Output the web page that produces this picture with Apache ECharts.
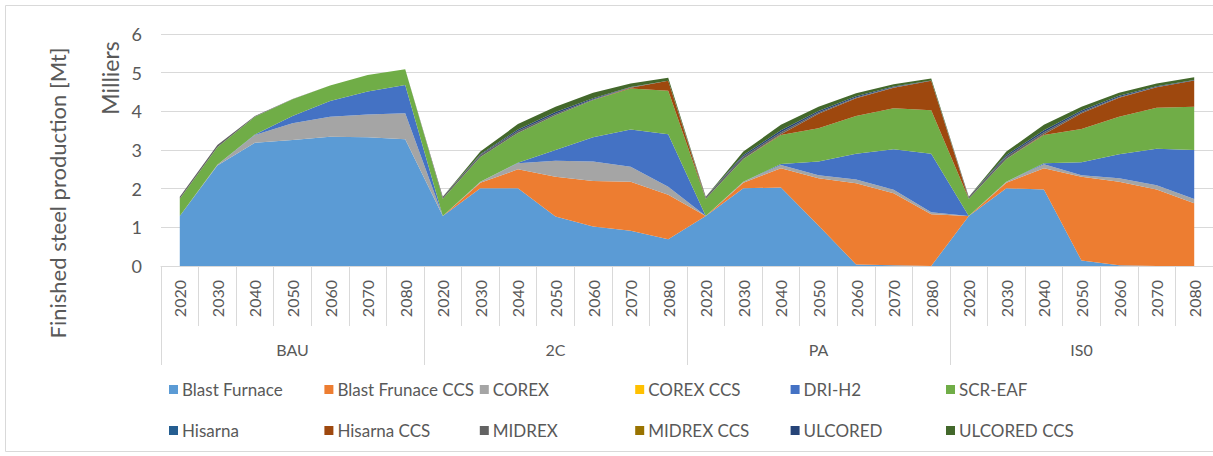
<!DOCTYPE html>
<html>
<head>
<meta charset="utf-8">
<script src="https://cdn.jsdelivr.net/npm/echarts@6/dist/echarts.min.js"></script>
<style>
html,body{margin:0;padding:0;background:#fff;}
#chart{width:1213px;height:456px;}
</style>
</head>
<body>
<div id="chart"></div>
<script>
var years = ['2020','2030','2040','2050','2060','2070','2080'];
var scenarios = ['BAU','2C','PA','IS0'];
var yTicks = [0, 6, 1];

var seriesNames = ['Blast Furnace','Blast Frunace CCS','COREX','COREX CCS','DRI-H2','SCR-EAF',
                   'Hisarna','Hisarna CCS','MIDREX','MIDREX CCS','ULCORED','ULCORED CCS'];

// values per series, 28 points: BAU, 2C, PA, IS0 x 2020..2080 (thousand Mt)
var blastFurnace = [1.29,2.60,3.19,3.26,3.34,3.33,3.28, 1.29,2.01,2.01,1.28,1.02,0.91,0.69, 1.29,2.01,2.03,1.05,0.04,0.02,0, 1.29,2.01,1.98,0.14,0.02,0,0];
var blastFurnaceCCS = [0,0,0,0,0,0,0, 0,0.14,0.49,1.03,1.18,1.27,1.15, 0,0.14,0.50,1.22,2.10,1.86,1.34, 0,0.14,0.55,2.17,2.16,1.98,1.62];
var corex = [0,0.02,0.20,0.43,0.52,0.59,0.67, 0,0.03,0.16,0.41,0.50,0.39,0.21, 0,0.03,0.08,0.08,0.10,0.09,0.05, 0,0.03,0.10,0.04,0.09,0.11,0.11];
var corexCCS = [0,0,0,0,0,0,0, 0,0,0,0,0,0,0, 0,0,0,0,0,0,0, 0,0,0,0,0,0,0];
var driH2 = [0,0,0.01,0.19,0.41,0.59,0.73, 0,0,0.01,0.28,0.63,0.96,1.36, 0,0,0.03,0.35,0.66,1.05,1.51, 0,0,0.03,0.33,0.62,0.94,1.27];
var scrEAF = [0.45,0.45,0.46,0.43,0.40,0.43,0.41, 0.45,0.64,0.77,0.90,0.96,1.06,1.12, 0.45,0.59,0.75,0.86,0.98,1.06,1.13, 0.45,0.59,0.73,0.86,0.97,1.06,1.12];
var hisarna = [0,0,0,0,0,0,0, 0,0,0,0,0,0,0, 0,0,0,0,0,0,0, 0,0,0,0,0,0,0];
var hisarnaCCS = [0,0,0,0,0,0,0, 0,0,0,0,0,0.02,0.26, 0,0,0.02,0.38,0.46,0.53,0.76, 0,0,0.02,0.41,0.49,0.53,0.68];
var midrex = [0.05,0.06,0.02,0.01,0,0,0, 0.05,0.05,0.05,0.04,0.02,0.01,0, 0.05,0.06,0.05,0.03,0.02,0.01,0, 0.05,0.06,0.05,0.03,0.02,0.01,0];
var midrexCCS = [0,0,0,0,0,0,0, 0,0,0,0,0,0,0, 0,0,0,0,0,0,0, 0,0,0,0,0,0,0];
var ulcored = [0,0,0,0,0,0,0, 0,0.02,0.04,0.04,0.03,0.01,0, 0,0.04,0.05,0.04,0.03,0.02,0.01, 0,0.04,0.05,0.04,0.03,0.02,0.01];
var ulcoredCCS = [0,0,0,0,0,0,0, 0,0.07,0.14,0.14,0.14,0.09,0.08, 0,0.09,0.14,0.11,0.08,0.06,0.05, 0,0.09,0.14,0.10,0.08,0.07,0.07];

var seriesValues = [blastFurnace, blastFurnaceCCS, corex, corexCCS, driH2, scrEAF,
                    hisarna, hisarnaCCS, midrex, midrexCCS, ulcored, ulcoredCCS];
var colors = ['#5B9BD5','#ED7D31','#A5A5A5','#FFC000','#4472C4','#70AD47',
              '#255E91','#9E480E','#636363','#997300','#264478','#43682B'];

var categories = [];
scenarios.forEach(function (s) { years.forEach(function (y) { categories.push(s + '|' + y); }); });

var FONT = 'Lato';
var GRAY = '#595959';
var LINE = '#D9D9D9';

var series = seriesNames.map(function (n, i) {
  return {
    name: n, type: 'line', stack: 'total', data: seriesValues[i],
    symbol: 'none', lineStyle: { width: 0 }, areaStyle: { opacity: 1, color: colors[i] },
    itemStyle: { color: colors[i] }, emphasis: { disabled: true }, animation: false
  };
});

var legends = seriesNames.map(function (n, i) {
  var col = i % 6, row = Math.floor(i / 6);
  return {
    data: [n], left: 169 + col * 155.4, top: row === 0 ? 381 : 422,
    itemWidth: 9, itemHeight: 9, icon: 'rect', padding: 0, itemGap: 0,
    textStyle: { fontSize: 17, color: GRAY, fontFamily: FONT, padding: [0, 0, 0, -1] }
  };
});

var chart = echarts.init(document.getElementById('chart'), null, { renderer: 'svg' });
chart.setOption({
  animation: false,
  color: colors,
  textStyle: { fontFamily: FONT },
  grid: { left: 161, right: -7, top: 34, height: 232, containLabel: false },
  legend: legends,
  xAxis: [
    {
      type: 'category', data: categories, position: 'bottom', boundaryGap: true,
      axisLine: { show: true, lineStyle: { color: LINE, width: 1 } },
      axisTick: { show: true, interval: 0, length: 60, lineStyle: { color: LINE, width: 1 } },
      axisLabel: {
        interval: 0, rotate: 90, margin: 14, fontSize: 16, color: GRAY, fontFamily: FONT,
        formatter: function (v) { return v.split('|')[1]; }
      },
      splitLine: { show: false }
    },
    {
      type: 'category', data: scenarios, position: 'bottom', boundaryGap: true,
      axisLine: { show: false },
      axisTick: { show: true, interval: 0, length: 99, lineStyle: { color: LINE, width: 1 } },
      axisLabel: { interval: 0, margin: 75, fontSize: 16, color: GRAY, fontFamily: FONT },
      splitLine: { show: false }
    }
  ],
  yAxis: {
    type: 'value', min: yTicks[0], max: yTicks[1], interval: yTicks[2],
    axisLine: { show: false }, axisTick: { show: false },
    axisLabel: { fontSize: 18, color: GRAY, margin: 19, fontFamily: FONT },
    splitLine: { show: true, lineStyle: { color: LINE, width: 1 } }
  },
  graphic: [
    { type: 'rect', shape: { x: 5.5, y: 5.5, width: 1230, height: 446 }, style: { fill: 'none', stroke: LINE, lineWidth: 1 }, silent: true, z: -10 },
    { type: 'text', x: 57, y: 193, rotation: Math.PI / 2,
      style: { text: 'Finished steel production [Mt]', fill: GRAY, fontSize: 22, fontFamily: FONT,
               textAlign: 'center', textVerticalAlign: 'middle', align: 'center', verticalAlign: 'middle' } },
    { type: 'text', x: 110, y: 78, rotation: Math.PI / 2,
      style: { text: 'Milliers', fill: GRAY, fontSize: 23, fontFamily: FONT,
               textAlign: 'center', textVerticalAlign: 'middle', align: 'center', verticalAlign: 'middle' } }
  ],
  series: series
});
</script>
</body>
</html>
